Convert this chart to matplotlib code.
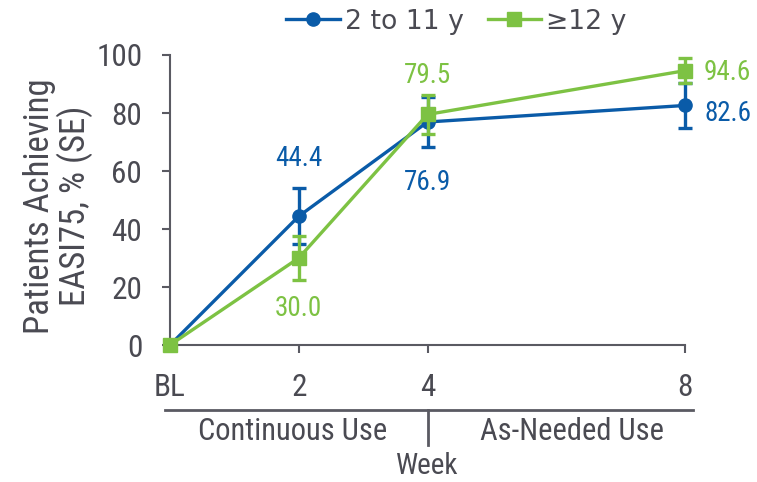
import matplotlib.pyplot as plt
from matplotlib.lines import Line2D

# EASI75 response by visit, two age groups
weeks = [0, 2, 4, 8]
week_labels = ['BL', '2', '4', '8']
young = [0, 44.4, 76.9, 82.6]
young_se = [0, 9.6, 8.5, 7.9]
older = [0, 30.0, 79.5, 94.6]
older_se = [0, 7.5, 6.7, 4.2]

BLUE = '#0A5BA8'
GREEN = '#7DC243'
GRAY = '#4A4A52'
AXIS = '#5A5A62'
NARROW = ['Roboto Condensed', 'Liberation Sans', 'DejaVu Sans']

fig = plt.figure(figsize=(7.57, 4.82), dpi=100)
ax = fig.add_axes([0.2246, 0.2842, 0.6803, 0.6017])

ax.errorbar(weeks, young, yerr=young_se, color=BLUE, lw=2.4, marker='o',
            ms=9.5, capsize=5, capthick=2.4, elinewidth=2.4,
            clip_on=False, zorder=3)
ax.errorbar(weeks, older, yerr=older_se, color=GREEN, lw=2.4, marker='s',
            ms=10, capsize=5, capthick=2.4, elinewidth=2.4,
            clip_on=False, zorder=4)

ax.set_xlim(0, 8)
ax.set_ylim(0, 100)
ax.set_xticks(weeks)
ax.set_xticklabels(week_labels)
ax.set_yticks(range(0, 101, 20))
for s in ['top', 'right']:
    ax.spines[s].set_visible(False)
for s in ['left', 'bottom']:
    ax.spines[s].set_color(AXIS)
    ax.spines[s].set_linewidth(1.5)
ax.tick_params(colors=AXIS, width=1.5, length=6, pad=14, labelcolor=GRAY)
for lab in ax.get_xticklabels() + ax.get_yticklabels():
    lab.set_family(NARROW)
    lab.set_fontsize(22.5)

ax.set_ylabel('Patients Achieving\nEASI75, % (SE)', family=NARROW, fontsize=25,
              color=GRAY, linespacing=1.0)
ax.yaxis.set_label_coords(-0.15, 0.48)

# value labels
def label(x, y, text, color, dx, dy, ha='center'):
    ax.annotate(text, (x, y), xytext=(dx, dy), textcoords='offset pixels',
                ha=ha, va='center', color=color, family=NARROW, fontsize=19.5)

label(weeks[1], young[1], '44.4', BLUE, 0, 58)
label(weeks[1], older[1], '30.0', GREEN, 0, -50)
label(weeks[2], older[2], '79.5', GREEN, 0, 39)
label(weeks[2], young[2], '76.9', BLUE, 0, -61)
label(weeks[3], older[3], '94.6', GREEN, 19, -2, ha='left')
label(weeks[3], young[3], '82.6', BLUE, 19, -8, ha='left')

# treatment period bracket below the axis
tr = ax.get_xaxis_transform()
ax.plot([-0.08, 8.12], [-0.224, -0.224], color=AXIS, lw=2, transform=tr, clip_on=False)
ax.plot([4, 4], [-0.224, -0.345], color=AXIS, lw=2, transform=tr, clip_on=False)
for x, y, txt, fs in [(1.91, -0.297, 'Continuous Use', 22),
                      (6.24, -0.297, 'As-Needed Use', 22),
                      (4, -0.418, 'Week', 21)]:
    ax.text(x, y, txt, transform=tr, ha='center', va='center',
            family=NARROW, fontsize=fs, color=GRAY)

handles = [Line2D([], [], color=BLUE, lw=2.4, marker='o', ms=9.5),
           Line2D([], [], color=GREEN, lw=2.4, marker='s', ms=10)]
fig.legend(handles, ['2 to 11 y', '\u226512 y'], loc='center',
           bbox_to_anchor=(0.603, 0.955), ncol=2, frameon=False, fontsize=19.2,
           handlelength=2.0, handletextpad=0.2, columnspacing=0.9,
           labelcolor=GRAY)

fig.savefig('out.png', dpi=100)
